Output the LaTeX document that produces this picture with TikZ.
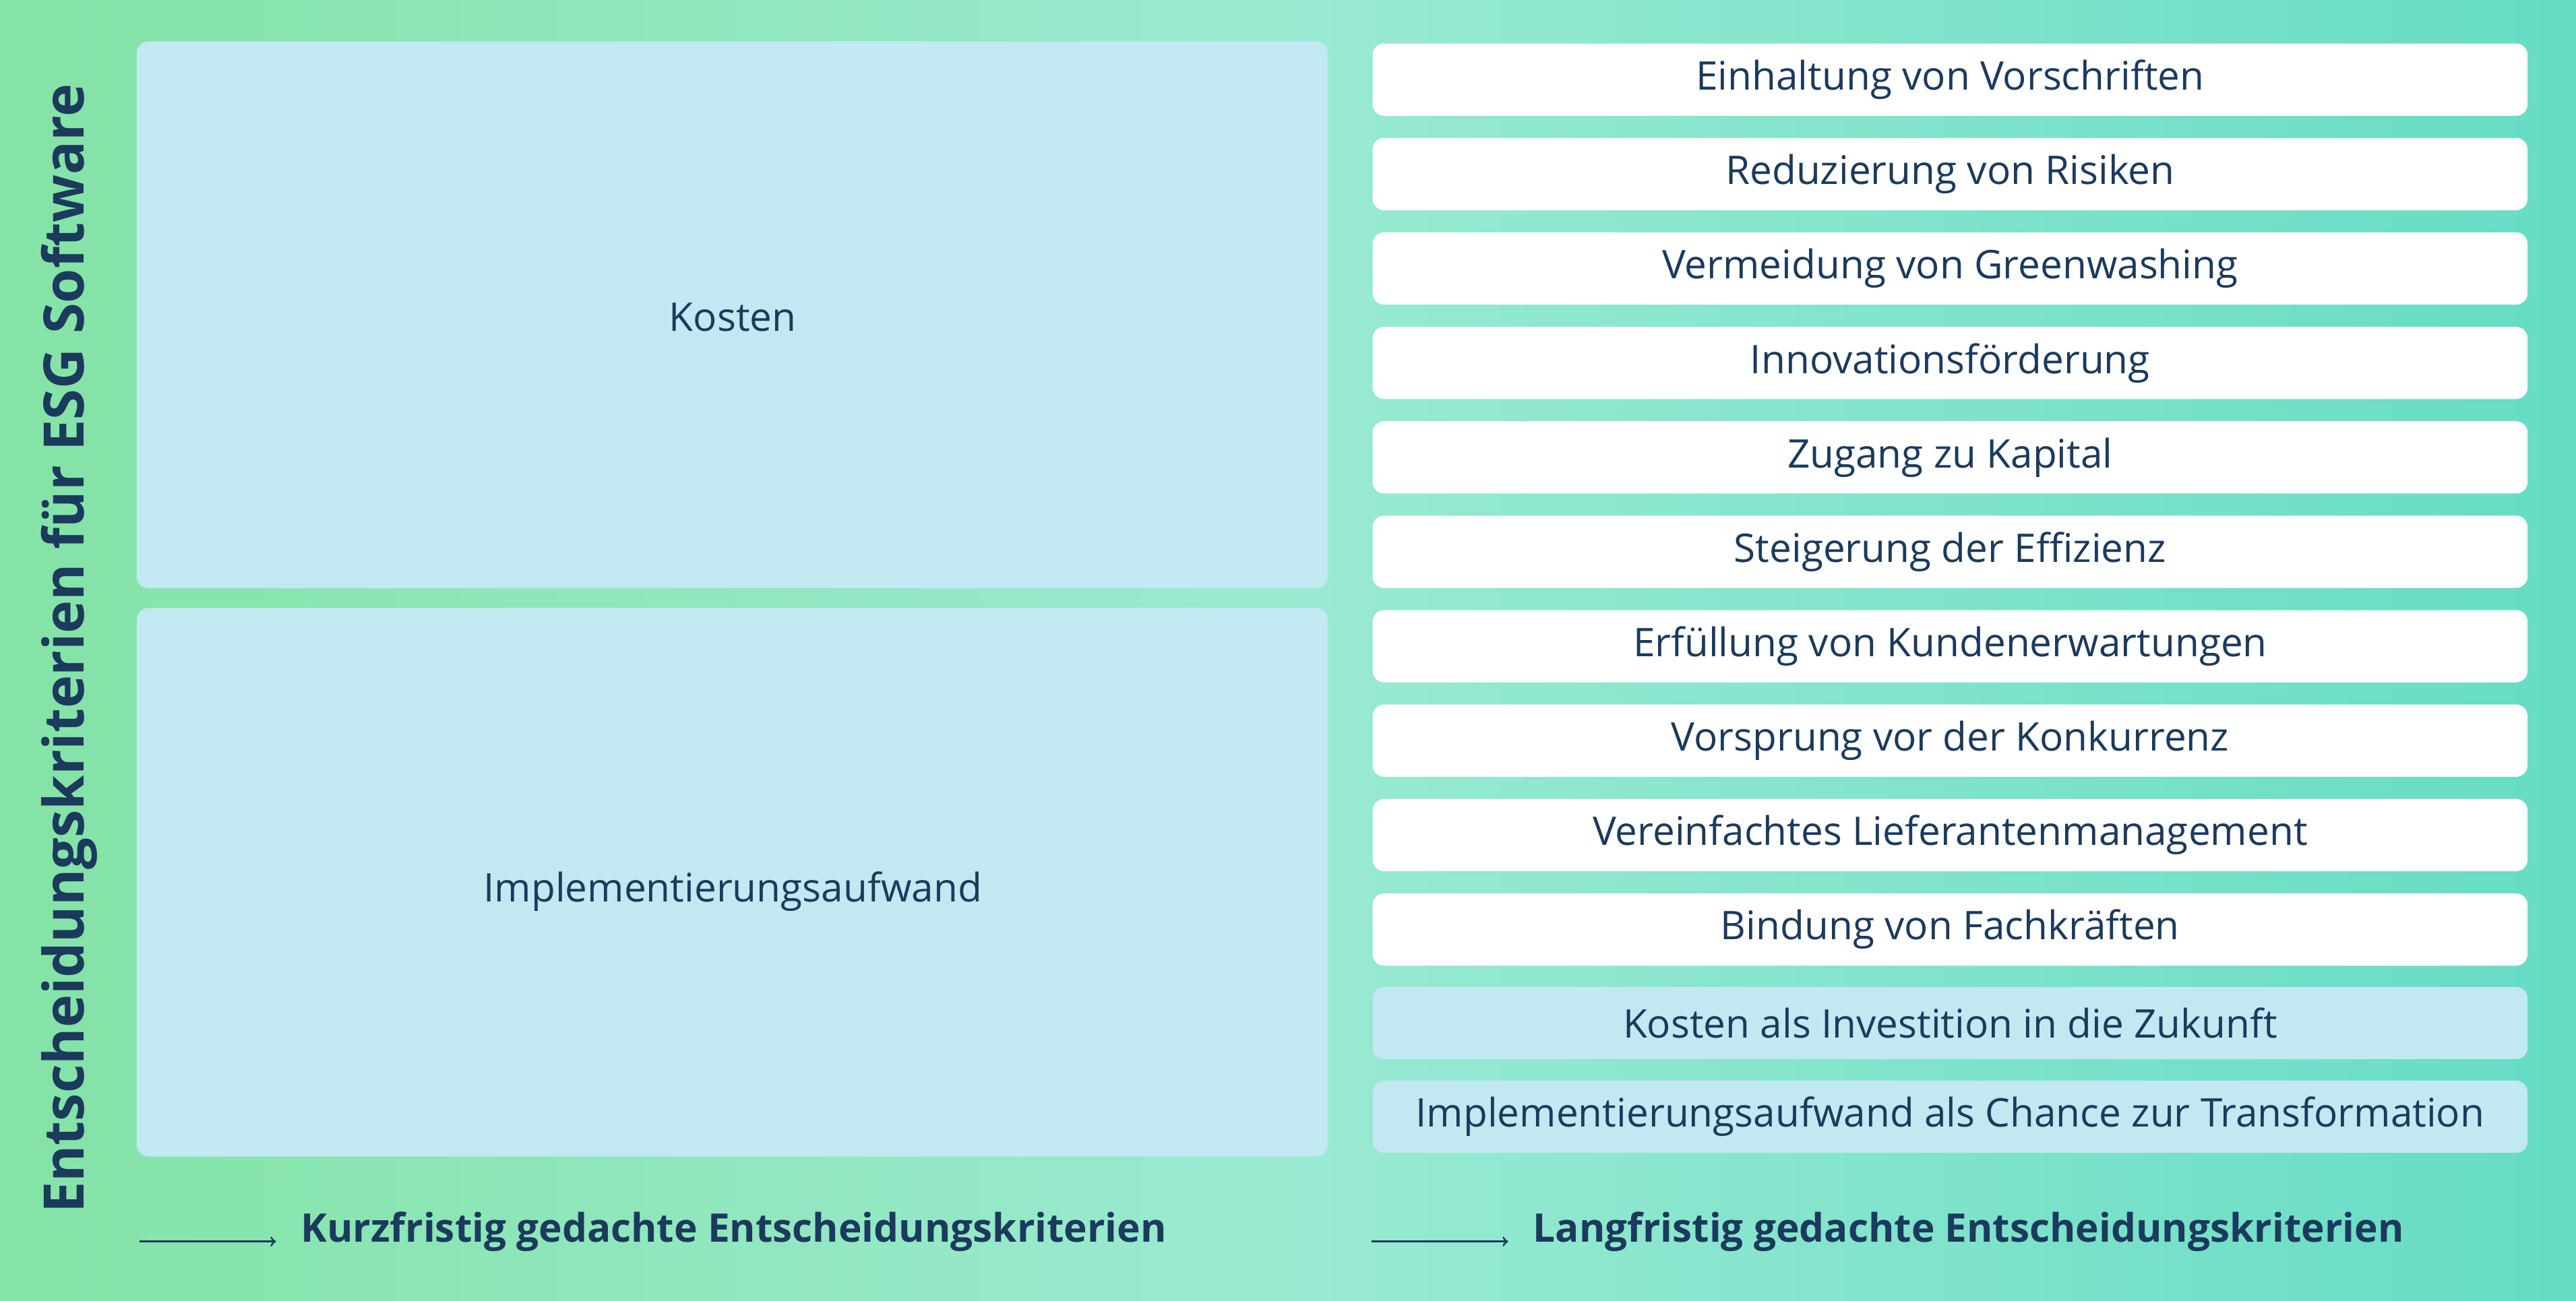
\documentclass[tikz,border=0pt]{standalone}
\usepackage{fontspec}
\setmainfont{Open Sans}
\begin{document}
\begin{tikzpicture}[x=1pt,y=-1pt,
  txt/.style={text=navy},
  bigbox/.style={fill=boxblue,rounded corners=7pt,draw=none},
  wbox/.style={fill=white,rounded corners=7pt,draw=none,minimum width=703pt,minimum height=44pt,font=\fontsize{24}{28}\selectfont,text=navy,inner sep=0pt},
  bbox/.style={wbox,fill=boxblue},
  lbl/.style={font=\fontsize{24}{28}\selectfont\bfseries,text=navy,anchor=west,inner sep=0pt},
  arr/.style={->,navy,line width=1.2pt}]
\definecolor{navy}{HTML}{1B3A5C}
\definecolor{boxblue}{HTML}{C2E8F1}
\definecolor{gl}{HTML}{84E3A6}
\definecolor{gm}{HTML}{9AEAD2}
\definecolor{gr}{HTML}{66DCC4}
\shade[left color=gl,right color=gm] (0,0) rectangle (784,792);
\shade[left color=gm,right color=gr] (784,0) rectangle (1568,792);
\useasboundingbox (0,0) rectangle (1568,792);
\node[bigbox,minimum width=725pt,minimum height=333pt,anchor=north west,inner sep=0pt] (k) at (83,25) {};
\node[txt,font=\fontsize{24}{28}\selectfont] at (446,193) {Kosten};
\node[bigbox,minimum width=725pt,minimum height=334pt,anchor=north west,inner sep=0pt] (i) at (83,370) {};
\node[txt,font=\fontsize{24}{28}\selectfont] at (446,543) {Implementierungsaufwand};
\foreach \t [count=\n] in {Einhaltung von Vorschriften,Reduzierung von Risiken,Vermeidung von Greenwashing,Innovationsförderung,Zugang zu Kapital,Steigerung der Effizienz,Erfüllung von Kundenerwartungen,Vorsprung vor der Konkurrenz,Vereinfachtes Lieferantenmanagement,Bindung von Fachkräften}
  \node[wbox] (r\n) at (1187,{48.5+(\n-1)*57.5}) {\t};
\node[bbox] (r11) at (1187,623) {Kosten als Investition in die Zukunft};
\node[bbox] (r12) at (1187,680) {Implementierungsaufwand als Chance zur Transformation};
\node[rotate=90,font=\fontsize{34}{40}\selectfont\bfseries,text=navy] (t) at (42,395) {Entscheidungskriterien für ESG Software};
\coordinate (a1) at (85,756); \coordinate (a2) at (168,756);
\draw[arr] (a1) -- (a2);
\node[lbl] (l1) at (183,750) {Kurzfristig gedachte Entscheidungskriterien};
\coordinate (b1) at (835,756); \coordinate (b2) at (918,756);
\draw[arr] (b1) -- (b2);
\node[lbl] (l2) at (933,750) {Langfristig gedachte Entscheidungskriterien};
\end{tikzpicture}
\end{document}
